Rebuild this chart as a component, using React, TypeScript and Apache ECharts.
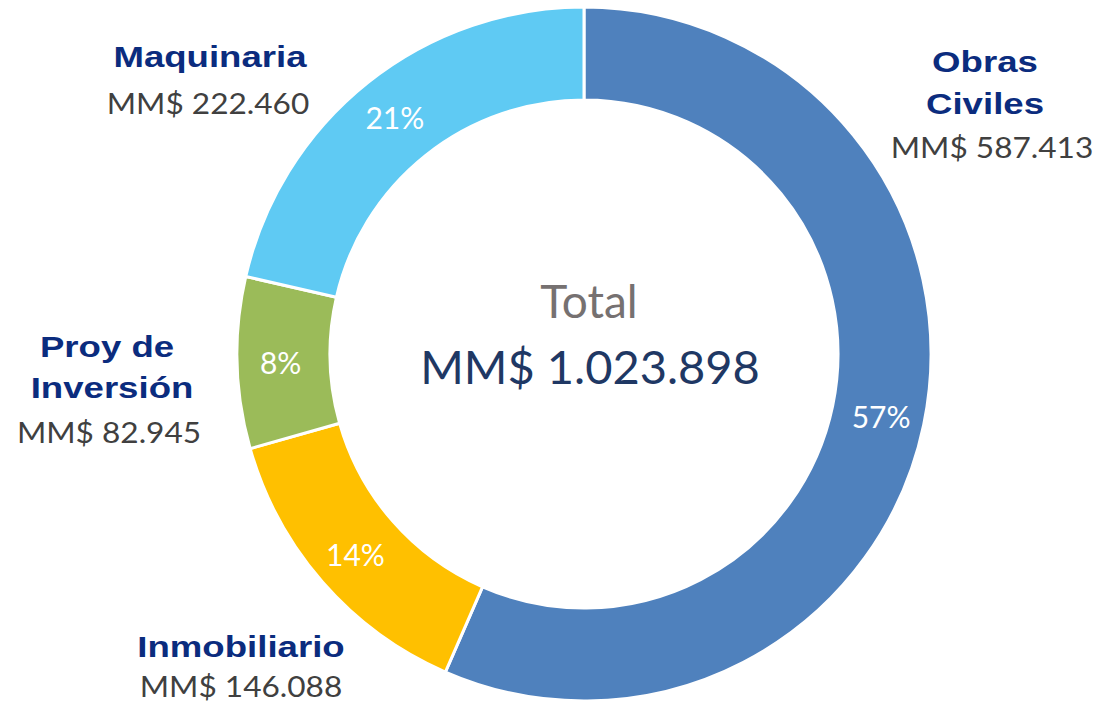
import React, { useEffect, useRef } from "react";
import * as echarts from "echarts";

const categories = ["Obras Civiles", "Inmobiliario", "Proy de Inversión", "Maquinaria"];
const values = [587413, 146088, 82945, 222460];
const valueLabels = ["MM$ 587.413", "MM$ 146.088", "MM$ 82.945", "MM$ 222.460"];
const colors = ["#4F81BD", "#FFC000", "#9BBB59", "#5FCAF3"];
const totalLabel = "MM$ 1.023.898";

const nameFont = "bold 30px 'Liberation Sans', Arial, sans-serif";
const valFont = "29px Lato, 'Open Sans', sans-serif";
const nameColor = "#0B2C7E";
const valColor = "#404040";

function txt(text: string, x: number, y: number, font: string, fill: string, sx = 1) {
  return {
    type: "text",
    x,
    y,
    scaleX: sx,
    style: { text, font, fill, align: "center", verticalAlign: "middle" },
  };
}

export default function App() {
  const ref = useRef<HTMLDivElement>(null);
  useEffect(() => {
    document.body.style.margin = "0";
    const chart = echarts.init(ref.current!, undefined, { renderer: "svg" });
    const N = 1.22;
    const V = 1.09;
    chart.setOption({
      animation: false,
      backgroundColor: "#ffffff",
      series: [
        {
          type: "pie",
          center: [584, 354],
          radius: [254, 347],
          startAngle: 90,
          clockwise: true,
          avoidLabelOverlap: false,
          itemStyle: { borderColor: "#ffffff", borderWidth: 3 },
          label: {
            show: true,
            position: "inside",
            color: "#ffffff",
            fontSize: 30,
            fontFamily: "Lato, 'Open Sans', sans-serif",
            formatter: (p: any) => Math.round(p.percent) + "%",
          },
          labelLine: { show: false },
          emphasis: { disabled: true },
          data: categories.map((c, i) => ({
            name: c,
            value: values[i],
            itemStyle: { color: colors[i] },
          })),
        },
      ],
      graphic: [
        txt("Obras", 985, 62, nameFont, nameColor, N),
        txt("Civiles", 985, 104, nameFont, nameColor, N),
        txt(valueLabels[0], 992, 147, valFont, valColor, V),
        txt("Maquinaria", 210, 57, nameFont, nameColor, N),
        txt(valueLabels[3], 208, 103, valFont, valColor, V),
        txt("Proy de", 107, 347, nameFont, nameColor, N),
        txt("Inversión", 112, 388, nameFont, nameColor, N),
        txt(valueLabels[2], 109, 432, valFont, valColor, V),
        txt("Inmobiliario", 241, 647, nameFont, nameColor, N),
        txt(valueLabels[1], 241, 686, valFont, valColor, V),
        txt("Total", 589, 300, "46px Lato, 'Open Sans', sans-serif", "#767171"),
        txt(totalLabel, 590, 366, "47px Lato, 'Open Sans', sans-serif", "#1F3864"),
      ],
    });
    return () => chart.dispose();
  }, []);
  return <div ref={ref} style={{ width: 1104, height: 704 }} />;
}
